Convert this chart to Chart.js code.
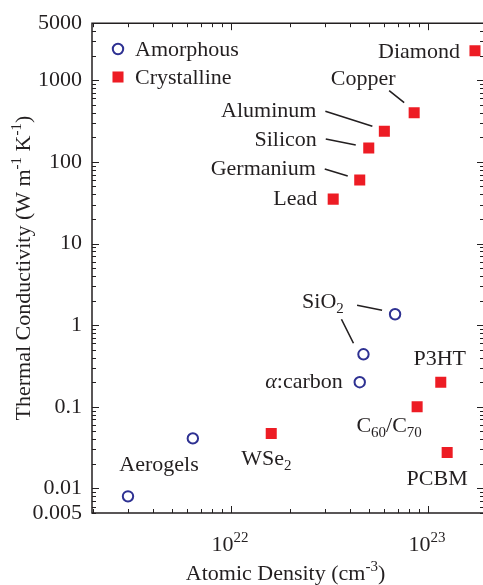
<!DOCTYPE html>
<html>
<head>
<meta charset="utf-8">
<script src="https://cdn.jsdelivr.net/npm/chart.js@4.4.0/dist/chart.umd.min.js"></script>
<style>
  html, body { margin: 0; padding: 0; background: #fff; overflow: hidden; }
  #wrap { width: 483px; height: 585px; }
</style>
</head>
<body>
<div id="wrap"><canvas id="conductivity" width="483" height="585"></canvas></div>
<script>
// Data
var amorphousNames = ['Aerogels', 'Aerogels', 'SiO2', 'SiO2', 'a:carbon'];
var amorphousDensity = [3.0e21, 6.4e21, 6.8e22, 4.7e22, 4.5e22];
var amorphousConductivity = [0.008, 0.041, 1.36, 0.44, 0.2];

var crystallineNames = ['Diamond', 'Copper', 'Aluminum', 'Silicon', 'Germanium', 'Lead', 'WSe2', 'P3HT', 'C60/C70', 'PCBM'];
var crystallineDensity = [1.73e23, 8.5e22, 6.0e22, 5.0e22, 4.5e22, 3.3e22, 1.6e22, 1.16e23, 8.8e22, 1.25e23];
var crystallineConductivity = [2300, 400, 237, 148, 60, 35, 0.047, 0.2, 0.1, 0.0275];

var yTickValues = [0.005, 0.01, 0.1, 1, 10, 100, 1000, 5000];
var yTickLabels = ['0.005', '0.01', '0.1', '1', '10', '100', '1000', '5000'];
var xTickValues = [1e22, 1e23];
var xTickLabels = [['10', '22'], ['10', '23']];

// Styles
var FONT = '"Liberation Serif", "Times New Roman", serif';
var INK = '#231f20';
var BLUE = '#2e3192';
var RED = '#ed1c24';

// label text, pixel offset of its centre from the point, alignment
var labelPlacement = [
  { ds: 1, i: 0, parts: [['Diamond']], dx: -15, dy: 0, align: 'right' },
  { ds: 1, i: 1, parts: [['Copper']], dx: -51, dy: -35, align: 'center' },
  { ds: 1, i: 2, parts: [['Aluminum']], dx: -68, dy: -21, align: 'right' },
  { ds: 1, i: 3, parts: [['Silicon']], dx: -52, dy: -9, align: 'right' },
  { ds: 1, i: 4, parts: [['Germanium']], dx: -44, dy: -12, align: 'right' },
  { ds: 1, i: 5, parts: [['Lead']], dx: -16, dy: -1, align: 'right' },
  { ds: 1, i: 6, parts: [['WSe'], ['2', 'sub']], dx: -30, dy: 24, align: 'left' },
  { ds: 1, i: 7, parts: [['P3HT']], dx: -1, dy: -24, align: 'center' },
  { ds: 1, i: 8, parts: [['C'], ['60', 'sub'], ['/C'], ['70', 'sub']], dx: -28, dy: 18, align: 'center' },
  { ds: 1, i: 9, parts: [['PCBM']], dx: -10, dy: 25, align: 'center' },
  { ds: 0, i: 0, parts: [['Aerogels']], dx: 31, dy: -32, align: 'center' },
  { ds: 0, i: 2, parts: [['SiO'], ['2', 'sub']], dx: -93, dy: -13, align: 'left' },
  { ds: 0, i: 4, parts: [['\u03b1', 'it'], [':carbon']], dx: -17, dy: -1, align: 'right' }
];

// leader lines, pixel offsets from the point
var leaderPlacement = [
  { ds: 1, i: 1, x1: -25, y1: -22, x2: -10, y2: -10 },
  { ds: 1, i: 2, x1: -59, y1: -20, x2: -12, y2: -5 },
  { ds: 1, i: 3, x1: -43, y1: -9, x2: -13, y2: -3 },
  { ds: 1, i: 4, x1: -35, y1: -11, x2: -12, y2: -4 },
  { ds: 0, i: 2, x1: -38, y1: -9, x2: -13, y2: -4 },
  { ds: 0, i: 3, x1: -22, y1: -35, x2: -10, y2: -11 }
];

function drawRich(ctx, parts, x, y, align) {
  var fonts = parts.map(function (p) {
    if (p[1] === 'sub' || p[1] === 'sup') return '15px ' + FONT;
    if (p[1] === 'it') return 'italic 22px ' + FONT;
    return '22px ' + FONT;
  });
  var widths = parts.map(function (p, k) {
    ctx.font = fonts[k];
    return ctx.measureText(p[0]).width;
  });
  var total = widths.reduce(function (a, b) { return a + b; }, 0);
  var cx = align === 'right' ? x - total : align === 'center' ? x - total / 2 : x;
  ctx.textAlign = 'left';
  ctx.textBaseline = 'alphabetic';
  parts.forEach(function (p, k) {
    ctx.font = fonts[k];
    var off = p[1] === 'sub' ? 5 : p[1] === 'sup' ? -9 : 0;
    ctx.fillText(p[0], cx, y + off);
    cx += widths[k];
  });
}

var decorations = {
  id: 'decorations',
  afterDatasetsDraw: function (chart) {
    var ctx = chart.ctx, a = chart.chartArea;
    var xs = chart.scales.x, ys = chart.scales.y;
    ctx.save();

    // frame (right side falls on the page edge)
    ctx.strokeStyle = INK;
    ctx.lineWidth = 1.5;
    ctx.beginPath();
    ctx.moveTo(a.right + 2, a.top);
    ctx.lineTo(a.left, a.top);
    ctx.lineTo(a.left, a.bottom);
    ctx.lineTo(a.right + 2, a.bottom);
    ctx.stroke();

    // inward tick marks on all four sides
    ctx.lineWidth = 1;
    ctx.beginPath();
    for (var d = -3; d <= 4; d++) {
      for (var m = 1; m <= 9; m++) {
        var v = m * Math.pow(10, d);
        if (v < ys.min || v > ys.max) continue;
        var py = Math.round(ys.getPixelForValue(v)) + 0.5;
        var len = m === 1 ? 7 : 4;
        ctx.moveTo(a.left, py); ctx.lineTo(a.left + len, py);
        ctx.moveTo(a.right + 1, py); ctx.lineTo(a.right + 1 - len, py);
      }
    }
    for (var e = 21; e <= 23; e++) {
      for (var n = 1; n <= 9; n++) {
        var u = n * Math.pow(10, e);
        if (u < xs.min || u > xs.max) continue;
        var px = Math.round(xs.getPixelForValue(u)) + 0.5;
        var l2 = n === 1 ? 7 : 4;
        ctx.moveTo(px, a.bottom); ctx.lineTo(px, a.bottom - l2);
        ctx.moveTo(px, a.top); ctx.lineTo(px, a.top + l2);
      }
    }
    ctx.stroke();

    // leader lines
    ctx.lineWidth = 1.6;
    ctx.beginPath();
    leaderPlacement.forEach(function (s) {
      var pt = chart.getDatasetMeta(s.ds).data[s.i];
      ctx.moveTo(pt.x + s.x1, pt.y + s.y1);
      ctx.lineTo(pt.x + s.x2, pt.y + s.y2);
    });
    ctx.stroke();

    // point labels
    ctx.fillStyle = INK;
    labelPlacement.forEach(function (s) {
      var pt = chart.getDatasetMeta(s.ds).data[s.i];
      drawRich(ctx, s.parts, pt.x + s.dx, pt.y + s.dy + 7, s.align);
    });

    // legend
    chart.data.datasets.forEach(function (ds, k) {
      var ly = 49 + k * 28;
      ctx.fillStyle = ds.backgroundColor;
      ctx.strokeStyle = ds.borderColor;
      ctx.lineWidth = ds.pointBorderWidth;
      ctx.beginPath();
      if (ds.pointStyle === 'circle') {
        ctx.arc(118, ly, ds.pointRadius, 0, Math.PI * 2);
        ctx.stroke();
      } else {
        var h = ds.pointRadius * Math.SQRT1_2;
        ctx.fillRect(118 - h, ly - h, 2 * h, 2 * h);
      }
      ctx.fillStyle = INK;
      drawRich(ctx, [[ds.label]], 135, ly + 7, 'left');
    });

    // x tick labels with exponents
    xTickValues.forEach(function (v, k) {
      var px = xs.getPixelForValue(v);
      drawRich(ctx, [[xTickLabels[k][0]], [xTickLabels[k][1], 'sup']], px - 1, 551, 'center');
    });

    // axis titles
    drawRich(ctx, [['Atomic Density (cm'], ['-3', 'sup'], [')']], (a.left + a.right) / 2 - 2, 580, 'center');
    ctx.save();
    ctx.translate(30, (a.top + a.bottom) / 2);
    ctx.rotate(-Math.PI / 2);
    drawRich(ctx, [['Thermal Conductivity (W m'], ['-1', 'sup'], [' K'], ['-1', 'sup'], [')']], 0, 0, 'center');
    ctx.restore();

    ctx.restore();
  }
};

function toPoints(xv, yv) {
  return xv.map(function (x, i) { return { x: x, y: yv[i] }; });
}

var ctx = document.getElementById('conductivity').getContext('2d');
var chart = new Chart(ctx, {
  type: 'scatter',
  data: {
    datasets: [
      {
        label: 'Amorphous',
        data: toPoints(amorphousDensity, amorphousConductivity),
        pointStyle: 'circle',
        pointRadius: 5.2,
        pointBorderWidth: 2,
        borderColor: BLUE,
        backgroundColor: 'rgba(0,0,0,0)'
      },
      {
        label: 'Crystalline',
        data: toPoints(crystallineDensity, crystallineConductivity),
        pointStyle: 'rect',
        pointRadius: 7.8,
        pointBorderWidth: 0,
        borderColor: RED,
        backgroundColor: RED
      }
    ]
  },
  options: {
    responsive: false,
    animation: false,
    devicePixelRatio: 1,
    layout: { autoPadding: false, padding: { top: 20, right: 0, left: 0, bottom: 0 } },
    plugins: { legend: { display: false }, tooltip: { enabled: false } },
    scales: {
      x: {
        type: 'logarithmic',
        min: 1.97e21,
        max: 1.9e23,
        grid: { display: false, drawTicks: false },
        border: { display: false },
        ticks: { display: false },
        afterFit: function (s) { s.height = 72; }
      },
      y: {
        type: 'logarithmic',
        min: 0.005,
        max: 5000,
        grid: { display: false, drawTicks: false },
        border: { display: false },
        afterBuildTicks: function (s) {
          s.ticks = yTickValues.map(function (v) { return { value: v }; });
        },
        ticks: {
          autoSkip: false,
          padding: 10,
          color: INK,
          font: { family: FONT, size: 22 },
          callback: function (v, i) { return yTickLabels[i]; }
        },
        afterFit: function (s) { s.width = 92; }
      }
    }
  },
  plugins: [decorations]
});
</script>
</body>
</html>
